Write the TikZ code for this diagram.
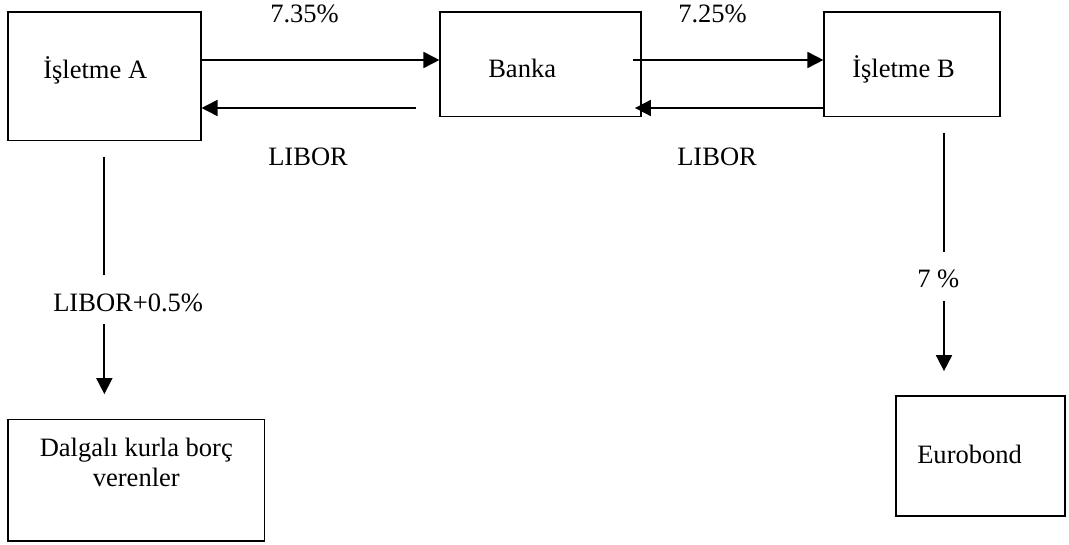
\documentclass[tikz,border=0pt]{standalone}
\usepackage{fontspec}
\setmainfont{Liberation Serif}
\usetikzlibrary{arrows.meta,calc}
\begin{document}
\begin{tikzpicture}[x=0.75pt,y=-0.75pt,
  every node/.style={font=\fontsize{19.9}{22}\selectfont},
  box/.style={draw,line width=1.3pt,inner sep=0pt},
  txt/.style={anchor=base west,inner sep=0pt},
  arr/.style={line width=1.3pt,-{Triangle[length=12pt,width=12pt]}},
  ln/.style={line width=1.3pt}]
\path[use as bounding box] (0,0) rectangle (1069,545);

% boxes
\node[box,minimum width=144.5pt,minimum height=96.4pt] (A) at (104.35,76.25) {};
\node[box,minimum width=150.3pt,minimum height=78.4pt] (Bk) at (540.5,64.25) {};
\node[box,minimum width=131.8pt,minimum height=78.4pt] (B) at (912.15,64.25) {};
\node[box,minimum width=192.4pt,minimum height=91.4pt] (D) at (136.25,480.4) {};
\node[box,minimum width=126.75pt,minimum height=90pt] (E) at (980.5,456) {};

% box texts
\node[txt] (tA) at (43,79) {İşletme A};
\node[txt] (tBk) at (488,78) {Banka};
\node[txt] (tB) at (852,78) {İşletme B};
\node[txt] (tE) at (917,463) {Eurobond};
\node[anchor=base,align=center,inner sep=0pt] (tD) at (136.3,486) {Dalgalı kurla borç\\verenler};

% horizontal flows
\coordinate (r1) at (0,60);
\coordinate (r2) at (0,108);
\draw[arr] (A.east |- r1) -- (Bk.west |- r1);
\draw[arr] ($(Bk.west |- r2)+(-23.6,0)$) -- (A.east |- r2);
\draw[arr] ($(Bk.east |- r1)+(-8.7,0)$) -- (B.west |- r1);
\draw[arr] (B.west |- r2) -- ($(Bk.east |- r2)+(-6.7,0)$);

\node[txt] (l1) at (270,23) {7.35\%};
\node[txt] (l2) at (268,166) {LIBOR};
\node[txt] (l3) at (678,23) {7.25\%};
\node[txt] (l4) at (677,166) {LIBOR};

% vertical flows
\draw[ln] ($(A.south)+(0,15.2)$) -- ($(A.south)+(0,133.5)$);
\draw[arr] ($(D.north -| A.south)+(0,-94.5)$) -- ($(D.north -| A.south)+(0,-24.5)$);
\node[txt] (l5) at (53,311) {LIBOR+0.5\%};

\coordinate (bx) at (944,0);
\draw[ln] ($(B.south -| bx)+(0,15.2)$) -- ($(B.south -| bx)+(0,134.2)$);
\draw[arr] ($(E.north -| bx)+(0,-94)$) -- ($(E.north -| bx)+(0,-24)$);
\node[txt] (l6) at (917,287) {7 \%};
\end{tikzpicture}
\end{document}
